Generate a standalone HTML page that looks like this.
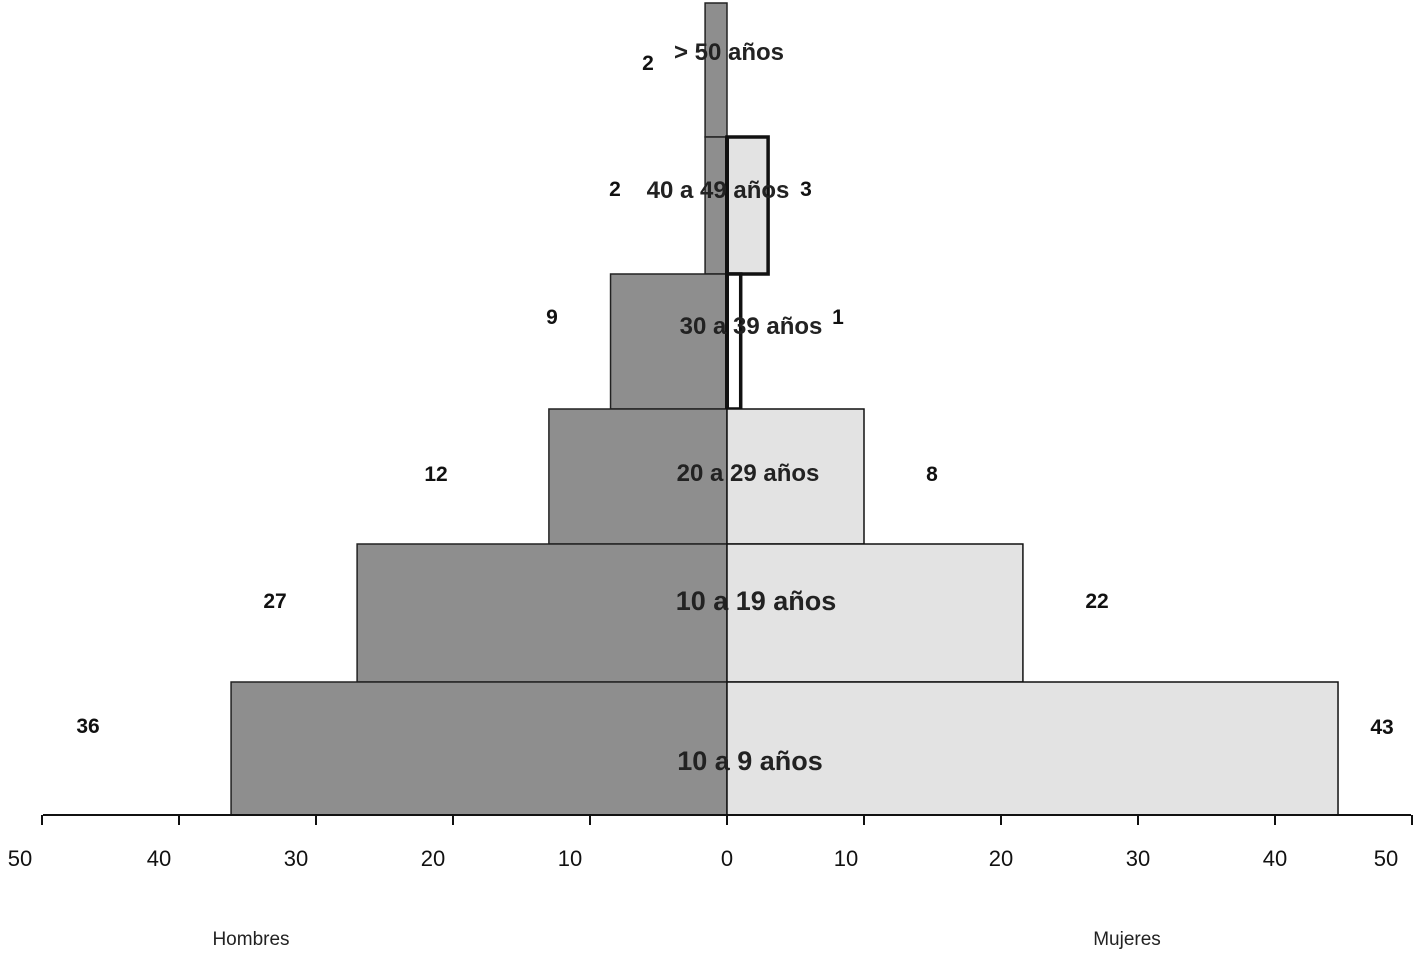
<!DOCTYPE html>
<html><head><meta charset="utf-8"><style>
body{margin:0;background:#fff;}
svg text{font-family:"Liberation Sans",Arial,sans-serif;}
</style></head><body>
<svg id="chart" width="1415" height="953" viewBox="0 0 1415 953" xmlns="http://www.w3.org/2000/svg"></svg>
<script>
const ageGroups = ["> 50 años","40 a 49 años","30 a 39 años","20 a 29 años","10 a 19 años","10 a 9 años"];
const menValues = [1.6, 1.6, 8.5, 13, 27, 36.2];
const womenValues = [0, 3, 1, 10, 21.6, 44.6];
const menLabels = ["2","2","9","12","27","36"];
const womenLabels = ["","3","1","8","22","43"];
const tickValues = [50,40,30,20,10,0,10,20,30,40,50];

const svg = document.getElementById('chart');
const NS = "http://www.w3.org/2000/svg";
const x0 = 727, unit = 13.7, axisY = 815;
const rowTop = [3,137,274,409,544,682];
const rowBottom = [137,274,409,544,682,815];
const xMen = v => x0 - v*unit;
const xWomen = v => x0 + v*unit;
function mk(tag, attrs){const e=document.createElementNS(NS,tag);for(const k in attrs)e.setAttribute(k,attrs[k]);svg.appendChild(e);return e;}

for(let i=0;i<ageGroups.length;i++){
  const y=rowTop[i], h=rowBottom[i]-rowTop[i];
  const m=mk('rect',{x:xMen(menValues[i]),y:y,width:menValues[i]*unit,height:h,fill:'#8e8e8e',stroke:'#222','stroke-width':1.5});
  
  
  if(womenValues[i]>0){
    const thick=(i===1||i===2);
    const w=mk('rect',{x:x0,y:y,width:womenValues[i]*unit,height:h,fill:i===2?'#fff':'#e3e3e3',stroke:'#111','stroke-width':thick?3.5:1.5});
    
    
  }
}
mk('line',{x1:x0,y1:137,x2:x0,y2:409,stroke:'#111','stroke-width':4});
const ax=mk('line',{x1:43,y1:axisY,x2:1411,y2:axisY,stroke:'#111','stroke-width':2});


const labelShift=[-22,-20,-20,-20,-20,0,-18,0,0,0,-26];
for(let i=0;i<tickValues.length;i++){
  const x = i<=5 ? xMen(tickValues[i]) : xWomen(tickValues[i]);
  mk('line',{x1:x,y1:axisY,x2:x,y2:axisY+10,stroke:'#111','stroke-width':2});
  const t=mk('text',{x:x+labelShift[i],y:866,'text-anchor':'middle','font-size':22,fill:'#111'});
  t.textContent=tickValues[i];
  
  
}
const ageLabelX=[729,718,751,748,756,750];
const ageLabelY=[60,198,334,481,610,770];
for(let i=0;i<ageGroups.length;i++){
  const t=mk('text',{x:ageLabelX[i],y:ageLabelY[i],'text-anchor':'middle','font-size':i>=4?27:24,'font-weight':'bold',fill:'#222'});
  t.textContent=ageGroups[i];
  
  
}
const menLX=[648,615,552,436,275,88], menLY=[70,196,324,481,608,733];
const womenLX=[0,806,838,932,1097,1382], womenLY=[0,196,324,481,608,734];
for(let i=0;i<ageGroups.length;i++){
  const t=mk('text',{x:menLX[i],y:menLY[i],'text-anchor':'middle','font-size':21,'font-weight':'bold',fill:'#111'});
  t.textContent=menLabels[i];
  
  
  if(womenLabels[i]){
    const u=mk('text',{x:womenLX[i],y:womenLY[i],'text-anchor':'middle','font-size':21,'font-weight':'bold',fill:'#111'});
    u.textContent=womenLabels[i];
    
    
  }
}
const h=mk('text',{x:251,y:945,'text-anchor':'middle','font-size':19,fill:'#222'});
h.textContent='Hombres';


const w=mk('text',{x:1127,y:945,'text-anchor':'middle','font-size':19,fill:'#222'});
w.textContent='Mujeres';


</script>
</body></html>
